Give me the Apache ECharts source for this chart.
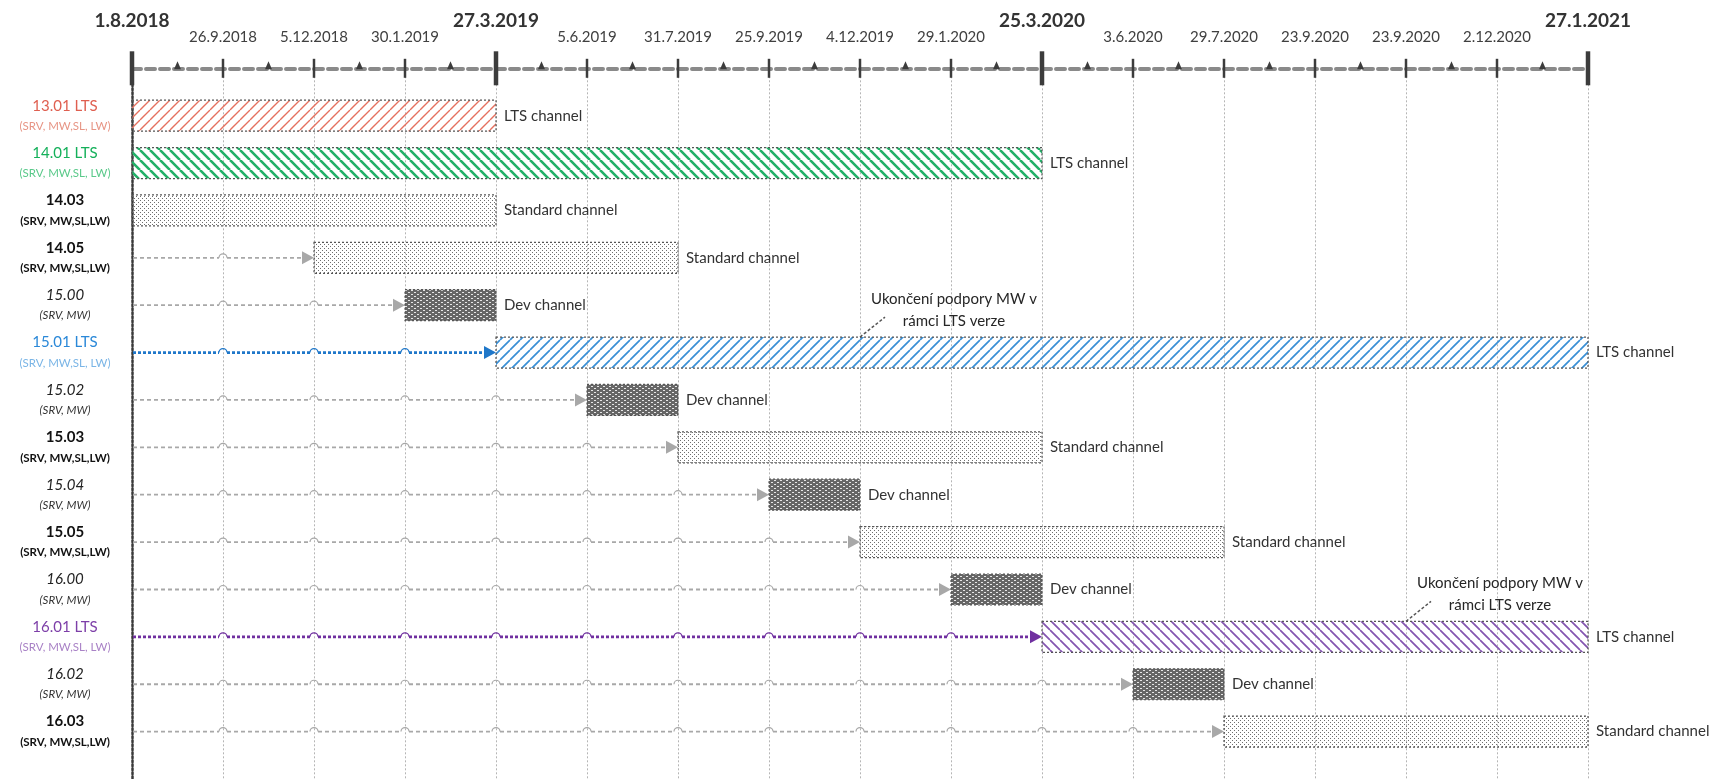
<!DOCTYPE html>
<html><head><meta charset="utf-8">
<script src="https://cdn.jsdelivr.net/npm/echarts@6/dist/echarts.min.js"></script>
<style>html,body{margin:0;padding:0;background:#fff}#c{width:1720px;height:779px}</style>
</head><body><div id="c"></div>
<script>
// ---------- DATA ----------
const dateLabels = ['1.8.2018','26.9.2018','5.12.2018','30.1.2019','27.3.2019','5.6.2019','31.7.2019','25.9.2019','4.12.2019','29.1.2020','25.3.2020','3.6.2020','29.7.2020','23.9.2020','23.9.2020','2.12.2020','27.1.2021'];
const majorTicks = [0, 4, 10, 16];
const versions = ['13.01 LTS','14.01 LTS','14.03','14.05','15.00','15.01 LTS','15.02','15.03','15.04','15.05','16.00','16.01 LTS','16.02','16.03'];
const components = ['(SRV, MW,SL, LW)','(SRV, MW,SL, LW)','(SRV, MW,SL,LW)','(SRV, MW,SL,LW)','(SRV, MW)','(SRV, MW,SL, LW)','(SRV, MW)','(SRV, MW,SL,LW)','(SRV, MW)','(SRV, MW,SL,LW)','(SRV, MW)','(SRV, MW,SL, LW)','(SRV, MW)','(SRV, MW,SL,LW)'];
const channels = ['lts','lts','std','std','dev','lts','dev','std','dev','std','dev','lts','dev','std'];
const barStart = [0, 0, 0, 2, 3, 4, 5, 6, 7, 8, 9, 10, 11, 12];
const barEnd   = [4, 10, 4, 6, 4, 16, 6, 10, 8, 12, 10, 16, 12, 16];
const channelNames = {lts: 'LTS channel', std: 'Standard channel', dev: 'Dev channel'};
const noteRows = [5, 11];
const noteTicks = [8, 14];
const noteText = 'Ukončení podpory MW v\nrámci LTS verze';

// ---------- STYLE ----------
const FONT = 'Lato';
const ltsStyle = {
  '13.01 LTS': {main: '#df5f50', sub: '#e79585', hatch: '#e5705f', dir: '/', lw: 1.4, arrow: '#a6a6a6'},
  '14.01 LTS': {main: '#14b05a', sub: '#5ac98a', hatch: '#22b068', dir: '\\', lw: 2.6, arrow: '#a6a6a6'},
  '15.01 LTS': {main: '#2a88d8', sub: '#7ab5e6', hatch: '#3a8fd5', dir: '/', lw: 1.7, arrow: '#1f77c9'},
  '16.01 LTS': {main: '#7d3fa8', sub: '#a982c6', hatch: '#8455b0', dir: '\\', lw: 1.7, arrow: '#7030a0'}
};
function hatch(color, dir, lw, s) {
  const c = document.createElement('canvas'); c.width = s; c.height = s;
  const g = c.getContext('2d'); g.strokeStyle = color; g.lineWidth = lw; g.beginPath();
  for (let k = -1; k <= 1; k++) {
    if (dir === '/') { g.moveTo(k * s, s); g.lineTo(k * s + s, 0); }
    else { g.moveTo(k * s, 0); g.lineTo(k * s + s, s); }
  }
  g.stroke();
  return {image: c, repeat: 'repeat'};
}
function dotPattern(bg, fg, w, h, pts) {
  const c = document.createElement('canvas'); c.width = w; c.height = h;
  const g = c.getContext('2d');
  if (bg) { g.fillStyle = bg; g.fillRect(0, 0, w, h); }
  g.fillStyle = fg;
  pts.forEach(p => g.fillRect(p[0], p[1], p[2], p[3]));
  return {image: c, repeat: 'repeat'};
}
const hatchFill = {};
Object.keys(ltsStyle).forEach(v => { const s = ltsStyle[v]; hatchFill[v] = hatch(s.hatch, s.dir, s.lw, 10); });
const stdFill = dotPattern(null, '#6e6e6e', 4, 4, [[0, 0, 1, 1], [2, 2, 1, 1]]);
const devFill = dotPattern('#666666', '#e6e6e6', 6, 4, [[0, 0, 2, 1], [3, 2, 2, 1]]);

const rich = {};
Object.keys(ltsStyle).forEach((v, j) => {
  rich['l' + j + 'a'] = {color: ltsStyle[v].main, fontSize: 15, fontFamily: FONT, lineHeight: 21};
  rich['l' + j + 'b'] = {color: ltsStyle[v].sub, fontSize: 11.5, fontFamily: FONT, lineHeight: 20};
});
rich.sa = {color: '#111', fontSize: 15, fontWeight: 'bold', fontFamily: FONT, lineHeight: 21};
rich.sb = {color: '#111', fontSize: 11.5, fontWeight: 'bold', fontFamily: FONT, lineHeight: 20};
rich.da = {color: '#222', fontSize: 15, fontStyle: 'italic', fontFamily: FONT, lineHeight: 21};
rich.db = {color: '#333', fontSize: 11.5, fontStyle: 'italic', fontFamily: FONT, lineHeight: 20};

function rowKey(i) {
  const ch = channels[i];
  if (ch === 'lts') return 'l' + Object.keys(ltsStyle).indexOf(versions[i]);
  return ch === 'std' ? 's' : 'd';
}

const BAR_H = 31;

const chart = echarts.init(document.getElementById('c'), null, {renderer: 'canvas'});
chart.setOption({
  animation: false,
  backgroundColor: '#fff',
  grid: {left: 132, right: 132, top: 68.3, height: 715.5},
  xAxis: [{
    type: 'value', position: 'top', min: 0, max: 16, interval: 1,
    axisLine: {show: true, onZero: false, lineStyle: {color: '#8a8a8a', width: 4, type: [9, 5]}},
    axisTick: {show: false},
    splitLine: {show: true, lineStyle: {color: '#b5b5b5', width: 1, type: [2, 2]}},
    axisLabel: {
      formatter: v => { const i = Math.round(v); return majorTicks.includes(i) ? '' : dateLabels[i]; },
      color: '#404040', fontFamily: FONT, fontSize: 15, margin: 22, lineHeight: 18,
      showMinLabel: true, showMaxLabel: true
    }
  }, {
    type: 'value', position: 'top', min: 0, max: 16, interval: 1,
    axisLine: {show: false}, axisTick: {show: false}, splitLine: {show: false},
    axisLabel: {
      formatter: v => { const i = Math.round(v); return majorTicks.includes(i) ? dateLabels[i] : ''; },
      color: '#333', fontFamily: FONT, fontSize: 19, fontWeight: 'bold', margin: 36, lineHeight: 22,
      showMinLabel: true, showMaxLabel: true
    }
  }],
  yAxis: {
    type: 'value', inverse: true, min: -1, max: 14, interval: 1,
    axisLine: {show: true, onZero: false, lineStyle: {color: '#3a3a3a', width: 2.5, type: [2, 2]}},
    axisTick: {show: false}, splitLine: {show: false},
    axisLabel: {
      align: 'center', margin: 67, rich: rich,
      formatter: v => {
        const i = Math.round(v);
        if (i < 0 || i >= versions.length) return '';
        const k = rowKey(i);
        return '{' + k + 'a|' + versions[i] + '}\n{' + k + 'b|' + components[i] + '}';
      }
    }
  },
  series: [
    { // axis ticks and minor markers
      type: 'custom', xAxisIndex: 0, yAxisIndex: 0, silent: true,
      data: dateLabels.map((d, i) => [i]),
      renderItem: (params, api) => {
        const i = api.value(0);
        const p = api.coord([i, -1]);
        const major = majorTicks.includes(i);
        const h = major ? 17 : 9.5;
        const ch = [{type: 'line', shape: {x1: p[0], y1: p[1] - h, x2: p[0], y2: p[1] + h},
          style: {stroke: '#3c3c3c', lineWidth: major ? 4.5 : 2.5}}];
        if (i < dateLabels.length - 1) {
          const m = api.coord([i + 0.5, -1]);
          ch.push({type: 'polygon', shape: {points: [[m[0] - 3.5, p[1] + 1], [m[0] + 3.5, p[1] + 1], [m[0], p[1] - 7]]},
            style: {fill: '#3c3c3c'}});
        }
        return {type: 'group', children: ch};
      }
    },
    { // arrows leading to bars
      type: 'custom', xAxisIndex: 0, yAxisIndex: 0, silent: true,
      data: versions.map((v, i) => [0, barStart[i], i]).filter(d => d[1] > 0),
      renderItem: (params, api) => {
        const a = api.value(0), b = api.value(1), i = api.value(2);
        const y = api.coord([a, i])[1];
        const lts = channels[i] === 'lts';
        const color = lts ? ltsStyle[versions[i]].arrow : '#a8a8a8';
        const lw = lts ? 2.6 : 1.8;
        const dash = lts ? [3, 2] : [4, 3];
        const r = 4;
        const xs = [];
        for (let k = a; k <= b; k++) xs.push(api.coord([k, i])[0]);
        const tip = xs[xs.length - 1];
        const headL = 12;
        const ch = [];
        let sx = xs[0] + 1;
        for (let k = 1; k < xs.length - 1; k++) {
          ch.push({type: 'line', shape: {x1: sx, y1: y, x2: xs[k] - r, y2: y}, style: {stroke: color, lineWidth: lw, lineDash: dash}});
          ch.push({type: 'arc', shape: {cx: xs[k], cy: y, r: r, startAngle: Math.PI, endAngle: 2 * Math.PI, clockwise: true},
            style: {stroke: color, lineWidth: 1.2, fill: null}});
          sx = xs[k] + r;
        }
        ch.push({type: 'line', shape: {x1: sx, y1: y, x2: tip - headL, y2: y}, style: {stroke: color, lineWidth: lw, lineDash: dash}});
        ch.push({type: 'polygon', shape: {points: [[tip, y], [tip - headL, y - 6.5], [tip - headL, y + 6.5]]}, style: {fill: color}});
        return {type: 'group', children: ch};
      }
    },
    { // bars + channel labels
      type: 'custom', xAxisIndex: 0, yAxisIndex: 0, silent: true,
      data: versions.map((v, i) => [barStart[i], barEnd[i], i]),
      renderItem: (params, api) => {
        const i = api.value(2);
        const p0 = api.coord([api.value(0), i]);
        const p1 = api.coord([api.value(1), i]);
        const ch = channels[i];
        const fill = ch === 'lts' ? hatchFill[versions[i]] : (ch === 'std' ? stdFill : devFill);
        return {type: 'group', children: [
          {type: 'rect', shape: {x: p0[0], y: p0[1] - BAR_H / 2, width: p1[0] - p0[0], height: BAR_H},
            style: {fill: fill, stroke: '#555', lineWidth: 1.2, lineDash: [2, 2]}},
          {type: 'text', x: p1[0] + 8, y: p1[1],
            style: {text: channelNames[ch], fill: '#333', font: '15px ' + FONT, align: 'left', verticalAlign: 'middle'}}
        ]};
      }
    },
    { // annotations
      type: 'custom', xAxisIndex: 0, yAxisIndex: 0, silent: true,
      data: noteRows.map((r, j) => [noteTicks[j], r]),
      renderItem: (params, api) => {
        const p = api.coord([api.value(0), api.value(1)]);
        const top = p[1] - BAR_H / 2;
        return {type: 'group', children: [
          {type: 'line', shape: {x1: p[0], y1: top, x2: p[0] + 25, y2: top - 20},
            style: {stroke: '#555', lineWidth: 1.5, lineDash: [3, 2]}},
          {type: 'text', x: p[0] + 94, y: top - 27,
            style: {text: noteText, fill: '#262626', font: '15px ' + FONT, lineHeight: 22, align: 'center', verticalAlign: 'middle'}}
        ]};
      }
    }
  ]
});
</script>
</body></html>
